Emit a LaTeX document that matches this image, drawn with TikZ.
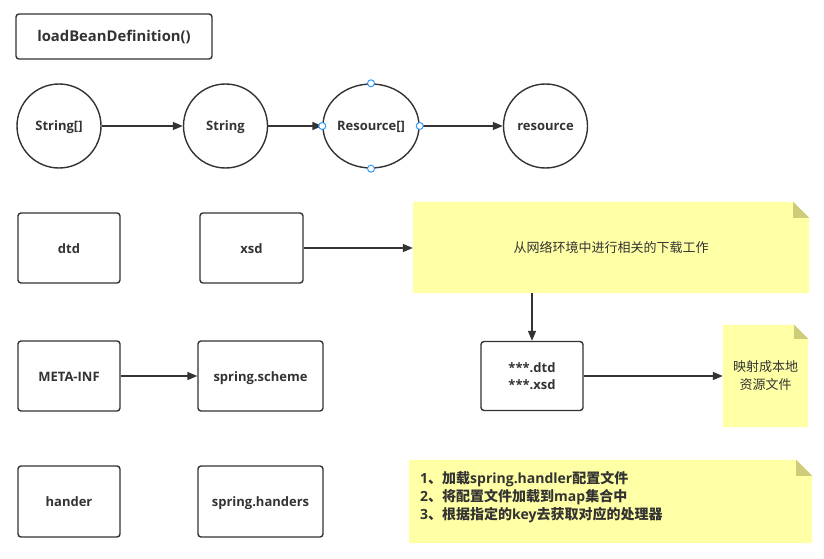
\documentclass[tikz,border=0pt]{standalone}
\usepackage{fontspec}
\setmainfont{Open Sans}
\newfontfamily\cjk{Noto Sans CJK SC}
\usetikzlibrary{arrows.meta,shapes.geometric,backgrounds}
\definecolor{ln}{HTML}{333333}
\definecolor{notefill}{HTML}{FFFFA6}
\definecolor{notefold}{HTML}{CCCC7A}
\definecolor{handle}{HTML}{3399FF}
\tikzset{
  box/.style={draw=ln, line width=1.4pt, rounded corners=3pt, rectangle, inner sep=0pt},
  lbl/.style={text height=10pt, text depth=0pt},
  circ/.style={draw=ln, line width=1.4pt, ellipse, inner sep=0pt, minimum width=84pt, minimum height=84pt, lbl},
  note/.style={rectangle, inner sep=0pt},
  conn/.style={draw=ln, line width=1.5pt, -{Triangle[length=10pt,width=8pt]}},
  hnd/.style={draw=handle, fill=white, line width=1pt}
}
\newcommand{\notebg}[2]{%
  \fill[notefill] (#1.north west) -- ([xshift=-#2pt]#1.north east) -- ([yshift=-#2pt]#1.north east) -- (#1.south east) -- (#1.south west) -- cycle;
  \fill[notefold] ([xshift=-#2pt]#1.north east) -- ([yshift=-#2pt]#1.north east) -- ([xshift=-#2pt,yshift=-#2pt]#1.north east) -- cycle;}
\begin{document}
\begin{tikzpicture}[x=1pt,y=-1pt,font=\fontsize{13}{18}\selectfont\bfseries, text=ln]
\useasboundingbox (0,0) rectangle (824,559);

\node[box, minimum width=196pt, minimum height=45pt, font=\fontsize{14.8}{18}\selectfont\bfseries, text height=11pt, text depth=0pt] (load) at (114,36.5) {loadBeanDefinition()};

\node[circ] (c1) at (59,126) {String[]};
\node[circ] (c2) at (225.5,126) {String};
\node[circ, minimum width=90pt] (c3) at (371,126) {Resource[]};
\node[circ] (c4) at (545.5,126) {resource};

\node[box, lbl, minimum width=102pt, minimum height=70pt] (dtd) at (69,248) {dtd};
\node[box, lbl, minimum width=103pt, minimum height=70pt] (xsd) at (251.5,248) {xsd};
\node[box, lbl, minimum width=102pt, minimum height=70pt] (meta) at (69,376) {META-INF};
\node[box, lbl, minimum width=125pt, minimum height=70pt] (scheme) at (260.5,376) {spring.scheme};
\node[box, lbl, minimum width=102pt, minimum height=71pt] (hander) at (69,501.5) {hander};
\node[box, lbl, minimum width=125pt, minimum height=71pt] (handers) at (260.5,501.5) {spring.handers};
\node[box, minimum width=102pt, minimum height=69pt, align=center, font=\fontsize{13}{17}\selectfont\bfseries] (files) at (532,376) {***.dtd\\***.xsd};

\node[note, minimum width=396pt, minimum height=91pt, font=\fontsize{13}{18}\selectfont\cjk] (n1) at (611,247.5) {从网络环境中进行相关的下载工作};
\node[note, minimum width=85pt, minimum height=102pt, align=center, font=\fontsize{13}{18}\selectfont\cjk] (n2) at (765.5,376) {映射成本地\\资源文件};
\node[note, minimum width=403pt, minimum height=83pt] (n3) at (610.5,501.5) {};
\node[anchor=north west, inner sep=0pt, align=left, font=\fontsize{14}{18}\selectfont\bfseries] (n3t) at (420,471) {1{\cjk\bfseries 、加载}spring.handler{\cjk\bfseries 配置文件}\\2{\cjk\bfseries 、将配置文件加载到}map{\cjk\bfseries 集合中}\\3{\cjk\bfseries 、根据指定的}key{\cjk\bfseries 去获取对应的处理器}};

\begin{scope}[on background layer]
\notebg{n1}{16}
\notebg{n2}{14}
\notebg{n3}{16}
\end{scope}

\draw[conn] (c1) -- (c2);
\draw[conn] (c2) -- (c3.west);
\draw[conn] (c3.east) -- (c4);
\draw[conn] (xsd) -- (n1.west |- xsd);
\draw[conn] (meta) -- (scheme);
\draw[conn] (n1.south -| files) -- (files);
\draw[conn] (files) -- (n2.west |- files);

\foreach \a in {north,south,east,west} \draw[hnd] (c3.\a) circle (3.5pt);
\end{tikzpicture}
\end{document}
